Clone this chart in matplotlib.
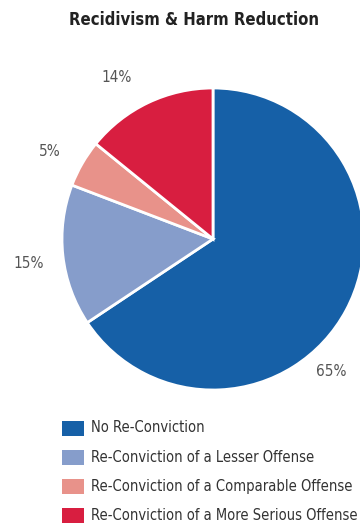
import matplotlib.pyplot as plt

categories = ['No Re-Conviction',
              'Re-Conviction of a Lesser Offense',
              'Re-Conviction of a Comparable Offense',
              'Re-Conviction of a More Serious Offense']
shares = [65, 15, 5, 14]
colors = ['#1660a7', '#869dcb', '#e8928a', '#d81e40']

W, H = 360, 525
fig = plt.figure(figsize=(W / 100, H / 100), dpi=100)
fig.patch.set_facecolor('white')

font = dict(family='DejaVu Sans', stretch='condensed')
grey = '#555555'

fig.text(194 / W, 1 - 20 / H, 'Recidivism & Harm Reduction', ha='center', va='center',
         fontsize=12, fontweight='bold', color='#222222', **font)

# pie: centre (213, 239) px, radius 151 px; right side runs off the figure
cx, cy, r = 213, 239, 151
ax = fig.add_axes([(cx - r) / W, 1 - (cy + r) / H, 2 * r / W, 2 * r / H])
ax.axis('off')
wedges, _ = ax.pie(shares, colors=colors, startangle=90, counterclock=False, radius=1,
                   wedgeprops=dict(edgecolor='white', linewidth=2))
ax.set_xlim(-1, 1)
ax.set_ylim(-1, 1)

# percent labels, placed outside the rim (units of the pie radius)
label_pos = [(0.78, -0.88), (-1.22, -0.16), (-1.08, 0.58), (-0.64, 1.07)]
for v, (x, y) in zip(shares, label_pos):
    ax.text(x, y, f'{v}%', ha='center', va='center', fontsize=11, color=grey,
            clip_on=False, **font)

# legend swatches
for i, (lab, c) in enumerate(zip(categories, colors)):
    yc = 428 + i * 29.3
    fig.patches.append(plt.Rectangle((62 / W, 1 - (yc + 7.5) / H), 22 / W, 15 / H,
                                     transform=fig.transFigure, facecolor=c, edgecolor='none'))
    fig.text(91 / W, 1 - yc / H, lab, ha='left', va='center', fontsize=10.5,
             color='#333333', **font)

fig.savefig('out.png', dpi=100)
